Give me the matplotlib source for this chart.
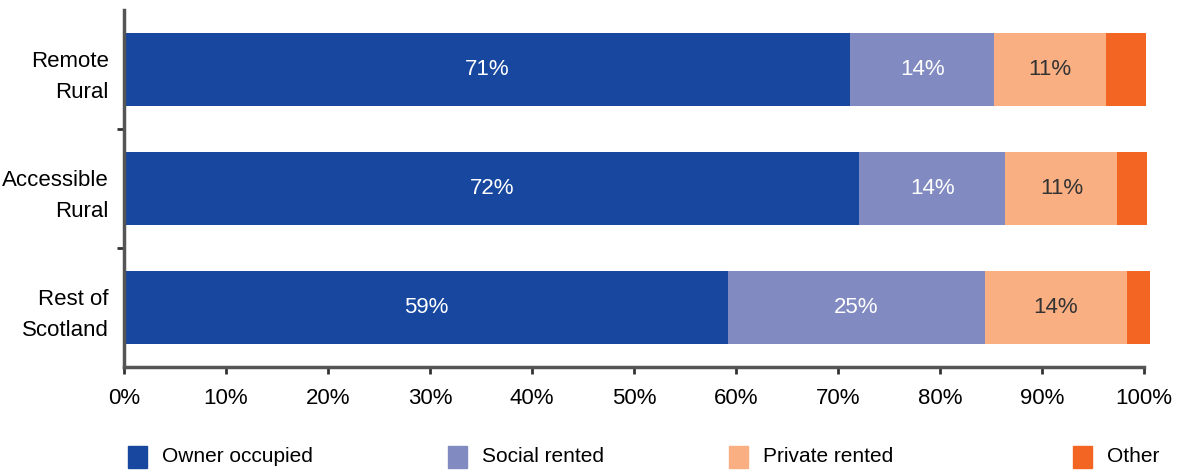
import matplotlib
matplotlib.use('Agg')
import matplotlib.pyplot as plt
import numpy as np

plt.rcParams['font.family'] = ['Liberation Sans Narrow', 'Liberation Sans', 'DejaVu Sans']

categories = ['Remote\nRural', 'Accessible\nRural', 'Rest of\nScotland']
series = ['Owner occupied', 'Social rented', 'Private rented', 'Other']
owner = [71.2, 72.1, 59.2]
social = [14.1, 14.3, 25.2]
private = [11.0, 11.0, 13.9]
other = [3.9, 2.9, 2.3]
owner_lbl = ['71%', '72%', '59%']
social_lbl = ['14%', '14%', '25%']
private_lbl = ['11%', '11%', '14%']
xticks = [0, 10, 20, 30, 40, 50, 60, 70, 80, 90, 100]

colors = ['#17479E', '#818BC1', '#F9AF82', '#F26522']
txtcol = ['white', 'white', '#333333', None]

fig = plt.figure(figsize=(11.8, 4.7), dpi=100)
ax = fig.add_axes([124/1180, 1-367/470, 1020/1180, 357/470])

y = np.arange(len(categories))
left = np.zeros(len(categories))
data = [owner, social, private, other]
labels = [owner_lbl, social_lbl, private_lbl, None]
for i, vals in enumerate(data):
    bars = ax.barh(y, vals, left=left, height=0.615, color=colors[i], clip_on=False)
    if labels[i] is not None:
        for j, b in enumerate(bars):
            ax.text(left[j] + vals[j]/2, y[j], labels[i][j], ha='center', va='center',
                    color=txtcol[i], fontsize=16)
    left = left + np.array(vals)

ax.set_xlim(0, 100)
ax.set_ylim(2.5, -0.5)
ax.set_xticks(xticks)
ax.set_xticklabels([str(t) + '%' for t in xticks], fontsize=16)
ax.set_yticks(y)
ax.set_yticklabels(categories, fontsize=16, linespacing=1.6)
ax.set_yticks([0.5, 1.5], minor=True)
ax.tick_params(axis='y', which='major', length=0, pad=11)
ax.tick_params(axis='y', which='minor', length=5, width=2, color='#333333')
ax.tick_params(axis='x', length=5, width=2, color='#333333', pad=10)
for s in ['top', 'right']:
    ax.spines[s].set_visible(False)
for s in ['left', 'bottom']:
    ax.spines[s].set_linewidth(2.5)
    ax.spines[s].set_color('#555555')

# legend
leg_x = [128, 448, 729, 1073]
for i, name in enumerate(series):
    fig.patches.append(plt.Rectangle((leg_x[i]/1180, 1-468/470), 19/1180, 22/470,
                                     transform=fig.transFigure, color=colors[i]))
    fig.text((leg_x[i] + 34)/1180, 1-457/470, name, fontsize=15, va='center', ha='left')

fig.savefig('out.png', dpi=100)
